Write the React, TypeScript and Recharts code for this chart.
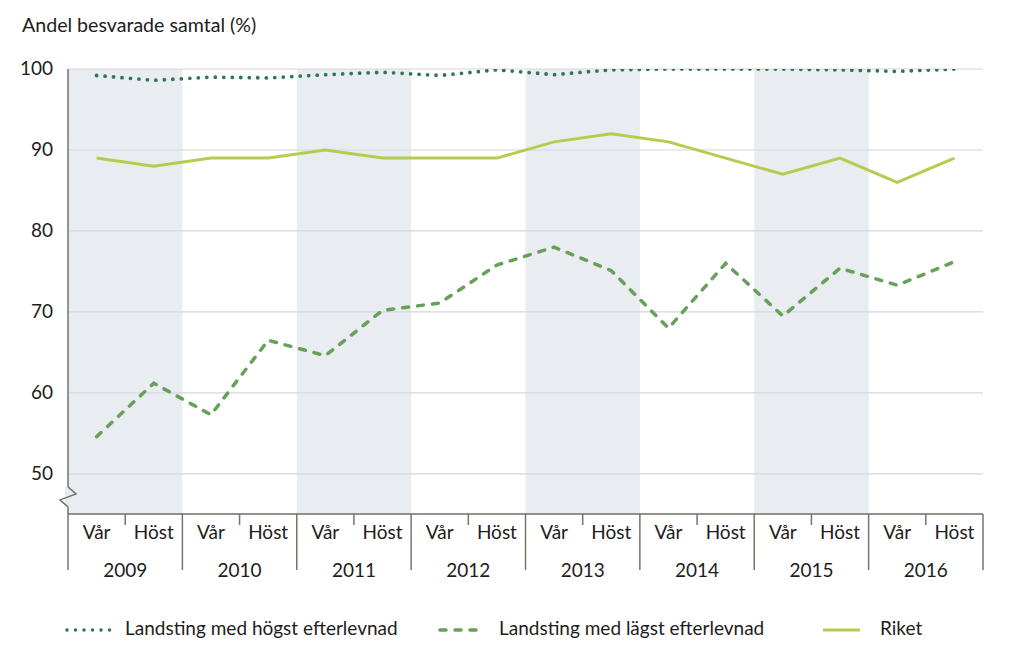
import { CartesianGrid, LineChart, Line, ReferenceArea, XAxis, YAxis } from "recharts";

const years = ["2009", "2010", "2011", "2012", "2013", "2014", "2015", "2016"];
const seasons = ["Vår", "Höst"];
const shadedYears = ["2009", "2011", "2013", "2015"];
const yTicks = [50, 60, 70, 80, 90, 100];

const highest = [99.2, 98.6, 99.0, 98.9, 99.3, 99.6, 99.2, 99.9, 99.3, 99.9, 100, 100, 100, 99.9, 99.7, 100];
const lowest = [54.6, 61.2, 57.3, 66.5, 64.6, 70.2, 71.1, 75.8, 78.0, 75.1, 68.0, 76.0, 69.5, 75.4, 73.3, 76.2];
const riket = [89, 88, 89, 89, 90, 89, 89, 89, 91, 92, 91, 89, 87, 89, 86, 89];

const periods = years.flatMap((y) => seasons.map((s) => `${y} ${s}`));
const data = periods.map((p, i) => ({ p, high: highest[i], low: lowest[i], riket: riket[i] }));

const FONT = "Lato, 'Open Sans', sans-serif";
const INK = "#1d1d1b";
const AXIS = "#75756a";
const C_HIGH = "#2c7656";
const C_LOW = "#67a058";
const C_RIKET = "#b6cc4f";

const W = 1024;
const H = 600;
const M = { top: 69, right: 41, left: 0, bottom: 26 };
const Y_W = 68;
const X_H = 60;
const band = (W - M.left - M.right - Y_W) / periods.length;

function XTick(props: any) {
  const { x, y, payload, index } = props;
  const [year, season] = String(payload.value).split(" ");
  const isLast = index === periods.length - 1;
  return (
    <g>
      <text x={x} y={y + 25} textAnchor="middle" fontSize={19} fill={INK} fontFamily={FONT}>
        {season}
      </text>
      {season === "Vår" ? (
        <>
          <line x1={x - band / 2} x2={x - band / 2} y1={y} y2={y + 56} stroke={AXIS} strokeWidth={1.5} />
          <line x1={x + band / 2} x2={x + band / 2} y1={y} y2={y + 11} stroke={AXIS} strokeWidth={1.5} />
          <text x={x + band / 2} y={y + 63} textAnchor="middle" fontSize={19} fill={INK} fontFamily={FONT}>
            {year}
          </text>
        </>
      ) : null}
      {isLast ? <line x1={x + band / 2} x2={x + band / 2} y1={y} y2={y + 56} stroke={AXIS} strokeWidth={1.5} /> : null}
    </g>
  );
}

function YTick(props: any) {
  const { x, y, payload } = props;
  return (
    <g>
      <text x={x} y={y + 6} textAnchor="end" fontSize={19} fill={INK} fontFamily={FONT}>
        {payload.value}
      </text>
      {payload.value === 50 ? (
        <g>
          <rect x={Y_W - 3} y={y + 13} width={6} height={20} fill="#e8ebee" />
          <polyline
            points={`${Y_W},${y + 13} ${Y_W + 8},${y + 20} ${Y_W - 8},${y + 26} ${Y_W},${y + 33}`}
            fill="none"
            stroke={AXIS}
            strokeWidth={1.5}
          />
        </g>
      ) : null}
    </g>
  );
}

function LegendItem({ kind, color, label, x, textX }: { kind: string; color: string; label: string; x: number; textX: number }) {
  const dash = kind === "dot" ? "0 8.5" : kind === "dash" ? "6 9" : undefined;
  return (
    <>
      <svg style={{ position: "absolute", left: x, top: 622 }} width={50} height={16}>
        <line
          x1={3}
          x2={kind === "solid" ? 40 : 46}
          y1={8}
          y2={8}
          stroke={color}
          strokeWidth={kind === "solid" ? 3 : 3.5}
          strokeDasharray={dash}
          strokeLinecap={kind === "solid" ? "butt" : "round"}
        />
      </svg>
      <div style={{ position: "absolute", left: textX, top: 616, fontSize: 19, color: INK, fontFamily: FONT, whiteSpace: "nowrap" }}>
        {label}
      </div>
    </>
  );
}

export default function App() {
  return (
    <div style={{ position: "absolute", left: 0, top: 0, width: W, height: 653, background: "#fff", overflow: "hidden" }}>
      <div style={{ position: "absolute", left: 22, top: 13, fontSize: 19.6, color: INK, fontFamily: FONT }}>
        Andel besvarade samtal (%)
      </div>
      <LineChart width={W} height={H} data={data} margin={M} style={{ position: "absolute", left: 0, top: 0 }}>
        {shadedYears.map((y) => (
          <ReferenceArea key={y} x1={`${y} Vår`} x2={`${y} Höst`} fill="#d3dae1" fillOpacity={0.5} stroke="none" ifOverflow="visible" />
        ))}
        <CartesianGrid vertical={false} stroke="#d6d6d6" strokeWidth={1.2} />
        <XAxis
          dataKey="p"
          scale="band"
          height={X_H}
          interval={0}
          tickLine={false}
          tickSize={0}
          tickMargin={0}
          axisLine={{ stroke: AXIS, strokeWidth: 1.5 }}
          tick={<XTick />}
        />
        <YAxis
          width={Y_W}
          domain={[45.05, 100]}
          ticks={yTicks}
          allowDataOverflow
          tickLine={false}
          tickSize={0}
          tickMargin={15}
          axisLine={{ stroke: AXIS, strokeWidth: 1.5 }}
          tick={<YTick />}
        />
        <Line dataKey="riket" stroke={C_RIKET} strokeWidth={3} dot={false} isAnimationActive={false} />
        <Line dataKey="low" stroke={C_LOW} strokeWidth={3.5} strokeDasharray="6 9" strokeLinecap="round" dot={false} isAnimationActive={false} />
        <Line dataKey="high" stroke={C_HIGH} strokeWidth={3.8} strokeDasharray="0 8.5" strokeLinecap="round" dot={false} isAnimationActive={false} />
      </LineChart>
      <LegendItem kind="dot" color={C_HIGH} label="Landsting med högst efterlevnad" x={64} textX={125} />
      <LegendItem kind="dash" color={C_LOW} label="Landsting med lägst efterlevnad" x={437} textX={499} />
      <LegendItem kind="solid" color={C_RIKET} label="Riket" x={820} textX={880} />
    </div>
  );
}
